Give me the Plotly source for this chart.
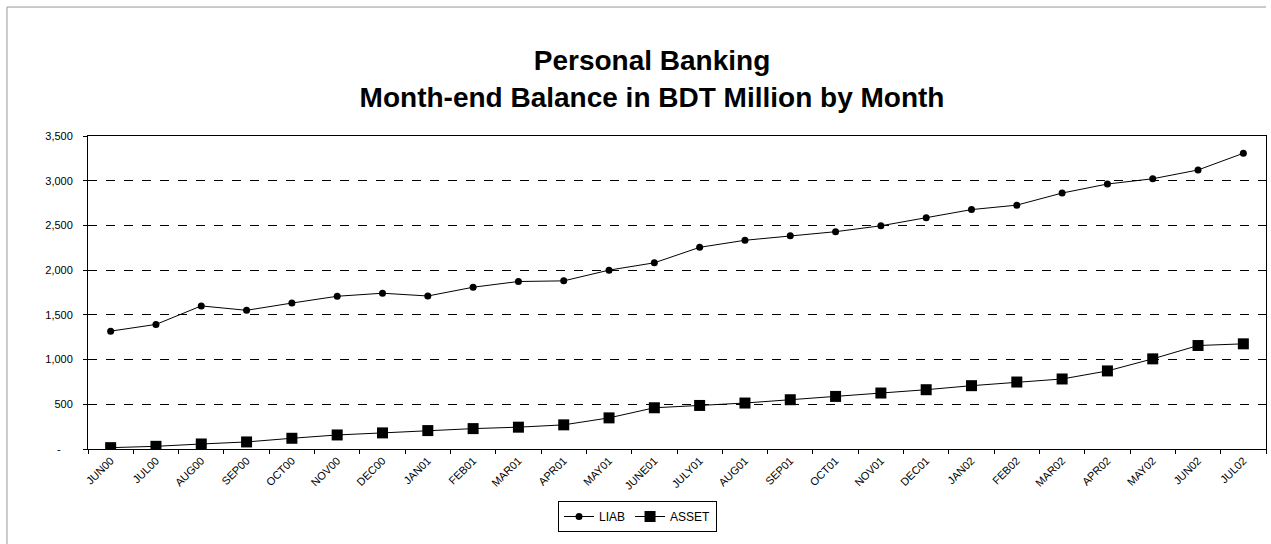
import plotly.graph_objects as go

months = ["JUN00", "JUL00", "AUG00", "SEP00", "OCT00", "NOV00", "DEC00", "JAN01", "FEB01",
          "MAR01", "APR01", "MAY01", "JUNE01", "JULY01", "AUG01", "SEP01", "OCT01", "NOV01",
          "DEC01", "JAN02", "FEB02", "MAR02", "APR02", "MAY02", "JUN02", "JUL02"]
liab = [1318, 1393, 1600, 1551, 1632, 1708, 1742, 1711, 1809, 1873, 1880, 2000, 2082,
        2255, 2334, 2385, 2430, 2496, 2585, 2677, 2727, 2862, 2963, 3022, 3120, 3307]
asset = [15, 30, 56, 79, 120, 157, 180, 206, 228, 244, 270, 348, 461, 487, 514, 551,
         588, 626, 663, 708, 749, 783, 873, 1008, 1157, 1176]
y_ticks = [0, 500, 1000, 1500, 2000, 2500, 3000, 3500]
y_tick_labels = ["-\u00a0\u00a0\u00a0\u00a0", "500", "1,000", "1,500", "2,000", "2,500", "3,000", "3,500"]

fig = go.Figure()
fig.add_trace(go.Scatter(x=months, y=liab, name="LIAB", mode="lines+markers",
                         line=dict(color="black", width=1),
                         marker=dict(symbol="circle", size=7, color="black")))
fig.add_trace(go.Scatter(x=months, y=asset, name="ASSET", mode="lines+markers",
                         line=dict(color="black", width=1),
                         marker=dict(symbol="square", size=11, color="black")))

fig.update_layout(
    width=1271, height=544,
    margin=dict(l=88, r=5, t=136, b=95),
    paper_bgcolor="white", plot_bgcolor="white",
    font=dict(family="Arial, Liberation Sans, sans-serif", color="black"),
    title=dict(text="<b>Personal Banking<br>Month-end Balance in BDT Million by Month</b>",
               x=0.513, xref="container", xanchor="center", y=0.871, yanchor="middle",
               font=dict(size=28, family="Arial, Liberation Sans, sans-serif", color="black")),
    showlegend=True,
    legend=dict(orientation="h", x=0.4665, xanchor="center", y=-0.2157, yanchor="middle",
                bordercolor="black", borderwidth=1, bgcolor="white",
                font=dict(size=12), tracegroupgap=0),
    xaxis=dict(type="category", showgrid=False, showline=True, linecolor="black",
               linewidth=1, mirror=True, ticks="outside", tickson="boundaries",
               ticklen=4, tickcolor="black", tickangle=-45, tickfont=dict(size=11),
               range=[-0.5, len(months) - 0.5]),
    yaxis=dict(range=[0, 3500], tickvals=y_ticks, ticktext=y_tick_labels,
               showgrid=True, gridcolor="black", griddash="dash", gridwidth=1,
               showline=True, linecolor="black", linewidth=1, mirror=True,
               ticks="outside", ticklen=4, tickcolor="black", tickfont=dict(size=11),
               ticklabelstandoff=8, zeroline=False),
)

fig.add_shape(type="line", xref="paper", yref="paper", x0=-0.0688, x1=1.0,
              y0=1.412, y1=1.412, line=dict(color="#999999", width=1))
fig.add_shape(type="line", xref="paper", yref="paper", x0=-0.0688, x1=-0.0688,
              y0=-0.31, y1=1.412, line=dict(color="#999999", width=1))

fig.write_html("out.html")
